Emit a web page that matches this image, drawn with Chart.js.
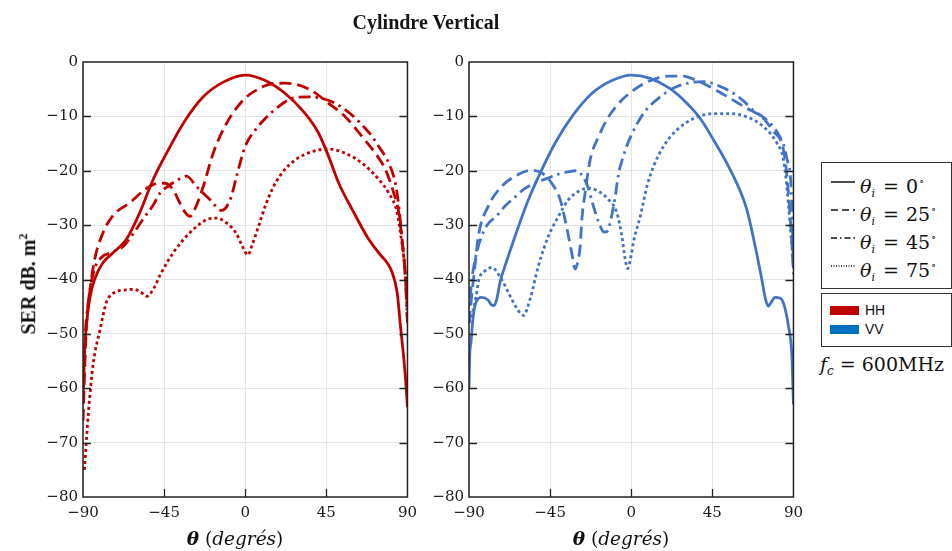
<!DOCTYPE html>
<html>
<head>
<meta charset="utf-8">
<script src="https://cdn.jsdelivr.net/npm/chart.js@4.4.1/dist/chart.umd.min.js"></script>
<style>
  html,body{margin:0;padding:0;background:#fff;}
  body{width:952px;height:551px;position:relative;overflow:hidden;font-family:"DejaVu Serif",serif;color:#111;}
  canvas{position:absolute;top:0;}
  #c1{left:0;}
  #c2{left:386px;}
  .abs{position:absolute;white-space:nowrap;}
  #title{left:426px;top:22px;transform:translate(-50%,-50%);font-family:"Liberation Serif",serif;font-weight:bold;font-size:20px;color:#151515;}
  #ylab{left:28px;top:284px;transform:translate(-50%,-50%) rotate(-90deg);font-family:"Liberation Serif",serif;font-weight:bold;font-size:20px;}
  #ylab sup{font-size:12px;}
  .xlab{top:538px;transform:translate(-50%,-50%);font-family:"DejaVu Serif",serif;font-size:18.5px;}
  .xlab b{font-style:italic;}
  .box{position:absolute;border:1.5px solid #333;background:#fff;box-sizing:border-box;}
  #leg1{left:821px;top:162px;width:131px;height:127px;}
  #leg2{left:821px;top:293px;width:131px;height:54px;}
  .row{position:absolute;left:0;height:26px;width:130px;}
  .row svg{position:absolute;left:9px;top:11px;}
  .row .t{position:absolute;left:38px;top:0;font-family:"DejaVu Serif",serif;font-size:19px;line-height:26px;}
  .t i{font-style:italic;}
  .t .eq{margin:0 7px 0 8px;}
  .t sub{font-size:11px;font-style:italic;vertical-align:-4px;}
  .t sup{font-size:11px;vertical-align:8px;margin-left:1px;}
  .sw{position:absolute;left:8px;width:29px;height:9px;}
  .swt{position:absolute;left:43px;font-family:"Liberation Sans",sans-serif;font-size:14px;line-height:14px;}
  #fc{left:820px;top:353px;font-family:"DejaVu Serif",serif;font-size:19px;}
  #fc sub{font-size:12px;font-style:italic;vertical-align:-4px;}
</style>
</head>
<body>
<canvas id="c1" width="424" height="551"></canvas>
<canvas id="c2" width="424" height="551"></canvas>

<div id="title" class="abs">Cylindre Vertical</div>
<div id="ylab" class="abs">SER dB. m<sup>2</sup></div>
<div class="abs xlab" style="left:235px;"><b>θ</b> (<i>degrés</i>)</div>
<div class="abs xlab" style="left:621px;"><b>θ</b> (<i>degrés</i>)</div>

<div id="leg1" class="box">
  <div class="row" style="top:6px;"><svg width="26" height="4"><line x1="0" y1="2" x2="24" y2="2" stroke="#111" stroke-width="1.5"/></svg><span class="t"><i>θ</i><sub>i</sub><span class="eq">=</span>0<sup>∘</sup></span></div>
  <div class="row" style="top:34px;"><svg width="26" height="4"><line x1="0" y1="2" x2="24" y2="2" stroke="#111" stroke-width="1.5" stroke-dasharray="7,4"/></svg><span class="t"><i>θ</i><sub>i</sub><span class="eq">=</span>25<sup>∘</sup></span></div>
  <div class="row" style="top:62px;"><svg width="26" height="4"><line x1="0" y1="2" x2="24" y2="2" stroke="#111" stroke-width="1.5" stroke-dasharray="6,3,1.5,3"/></svg><span class="t"><i>θ</i><sub>i</sub><span class="eq">=</span>45<sup>∘</sup></span></div>
  <div class="row" style="top:90px;"><svg width="26" height="4"><line x1="0" y1="2" x2="24" y2="2" stroke="#111" stroke-width="1.5" stroke-dasharray="1,1.5"/></svg><span class="t"><i>θ</i><sub>i</sub><span class="eq">=</span>75<sup>∘</sup></span></div>
</div>
<div id="leg2" class="box">
  <div class="sw" style="top:12px;background:#C00000;"></div><div class="swt" style="top:9px;">HH</div>
  <div class="sw" style="top:31px;background:#0070C0;"></div><div class="swt" style="top:28px;">VV</div>
</div>
<div id="fc" class="abs"><i>f</i><sub>c</sub> = 600MHz</div>

<script>
// ---------- tick labels ----------
const xTicks = [-90, -45, 0, 45, 90];
const yTicks = [0, -10, -20, -30, -40, -50, -60, -70, -80];

// ---------- HH (left panel) ----------
const hh0Theta  = [-90, -89.4, -88.1, -86.3, -83.5, -78.9, -73.3, -65.9, -58.5, -51.1, -43.7, -34.4, -23.3, -12.2, 0, 11.1, 22.2, 33.3, 40.7, 46.3, 51.9, 59.3, 68.5, 74.1, 81.5, 84.3, 86.1, 88, 89, 90];
const hh0Values = [-62, -54.6, -48.5, -43.6, -39.9, -36.9, -35.1, -32.6, -27.7, -21.6, -16.8, -11.3, -6.4, -3.7, -2.4, -3.4, -5.8, -9.5, -13.1, -17.4, -22.3, -27.1, -32.6, -35.1, -38.7, -42.4, -48.5, -54.6, -58.5, -63.5];

const hh25Theta  = [-90, -89, -88.1, -86.3, -83.5, -78.9, -73.3, -64.1, -55, -48, -44.6, -40, -36.3, -33, -30.7, -28, -23.3, -17.8, -10.4, -1.1, 5, 14.8, 22, 28, 37, 46.3, 55.6, 64.8, 72.2, 77.8, 82.4, 85.2, 87, 88.9, 90];
const hh25Values = [-66, -56, -48.5, -42.4, -36.3, -31.4, -28.2, -25.9, -23.3, -22.3, -22.3, -23.5, -25.9, -27.8, -28.4, -27.1, -22.9, -16.8, -11.3, -7.0, -5.4, -4.0, -3.9, -4.1, -5.3, -7.6, -10.1, -13.7, -16.8, -19.8, -24.1, -27.7, -32.6, -39.3, -45];

const hh45Theta  = [-90, -89, -87, -84, -80, -74, -68, -62, -56.5, -51, -47.3, -43, -38, -32.6, -27, -19.6, -13, -8, -4.8, 0, 5.6, 11.1, 18.5, 25.9, 35.2, 42.6, 50, 59.3, 66, 70.4, 74, 79.6, 83.3, 85.2, 87, 88.5, 90];
const hh45Values = [-63, -52, -44, -38.5, -36, -35, -34, -31.5, -28.8, -26.3, -24.1, -22.9, -21.8, -21, -22.9, -25.3, -27.3, -25, -21, -15.5, -12.5, -10.4, -8.2, -6.7, -6.4, -6.7, -7.6, -9.8, -12, -13.7, -15.5, -18.6, -22.3, -26.5, -32.6, -38, -48];

const hh75Theta  = [-89.2, -87, -84.3, -80.6, -77, -72, -66, -62.2, -58, -54.6, -50.5, -47.4, -40, -30.7, -21.5, -15.9, -10.4, -5, -2, 1.5, 3.7, 7.4, 11.1, 14.8, 20.4, 27.8, 37, 46.3, 55.6, 64.8, 74.1, 79.6, 84.3, 86.1, 88, 88.9, 90];
const hh75Values = [-75, -64.5, -55.4, -49.3, -44.2, -42.3, -41.9, -41.8, -42.3, -43.1, -41.5, -39.3, -35.1, -31.4, -29, -28.7, -29.6, -31.5, -33.6, -35.5, -33.8, -30.2, -26.5, -23.5, -20.4, -18, -16.5, -16, -16.8, -18.6, -21.6, -24.1, -27.7, -31.4, -36, -39.3, -47.5];

// ---------- VV (right panel) ----------
const vv0Theta  = [-90, -89.6, -88.9, -87.6, -85.7, -83, -79.3, -77.5, -76, -74.5, -72.8, -70, -64.4, -57, -49.6, -42.2, -33, -21.9, -10.7, 0, 10.5, 21.6, 30.9, 38.3, 45.6, 54.9, 64.1, 68.7, 72.4, 74.5, 76.1, 77.6, 79.8, 82.5, 84.5, 87.2, 89.1, 90];
const vv0Values = [-60, -54, -51.5, -46.6, -43.9, -43.3, -43.8, -44.7, -44.8, -43.5, -40.5, -37.5, -32, -25.3, -19.8, -14.9, -10.1, -5.8, -3.4, -2.4, -3, -4.9, -7.6, -10.4, -14.3, -19.8, -27.1, -33.8, -39.9, -43.6, -44.9, -44.2, -43.3, -43.4, -44.4, -48.5, -54, -63];

const vv25Theta  = [-90, -88.5, -86.7, -84.8, -79.3, -71.9, -64.4, -55.2, -49.6, -44.1, -39.4, -36.7, -33, -31.1, -29.5, -28.3, -27.4, -25.6, -22.8, -18.1, -12.6, -5.2, 0, 6.8, 14.2, 21, 28, 36.4, 45.6, 54.9, 64.1, 73.4, 78.9, 83.5, 85.4, 87.2, 89.1, 90];
const vv25Values = [-48, -43, -37.5, -32, -26.5, -22.9, -21, -19.9, -20.4, -22.3, -25.3, -29, -35.1, -38.1, -36.5, -33.8, -29, -24.1, -18, -13.7, -10.1, -7, -5.5, -4, -3, -2.6, -2.6, -3.4, -4.9, -6.7, -8.5, -10.4, -12.8, -14.9, -18, -24.1, -33.2, -39];

const vv45Theta  = [-90, -89, -87, -84, -80, -75, -70, -65, -60, -55, -50, -45, -40, -35, -30, -27, -24, -21, -18, -15, -13, -11, -9, -7, -5, -2.5, 0, 6.9, 16.1, 25.4, 33, 40.2, 49.4, 56, 62.4, 68, 73.5, 79.1, 82, 84.6, 86.5, 88.3, 89.3, 90];
const vv45Values = [-48, -42, -37, -33, -30, -28.4, -26.5, -25, -23.5, -22.5, -21.8, -21.2, -20.6, -20.2, -20, -21, -23, -26.5, -29.5, -31.3, -31, -28.5, -25, -20.5, -18, -15.5, -13.5, -9.4, -6.4, -4.5, -3.8, -3.6, -4.5, -5.6, -7.2, -9, -10.2, -12, -13.5, -15.3, -18, -21, -28, -38];

const vv75Theta  = [-90, -88, -86, -84.5, -81.1, -77.4, -71.9, -68.1, -64.4, -59.8, -56.1, -51.5, -45.9, -40.4, -34.8, -29.3, -23.7, -18.1, -12.6, -8, -5.2, -3.5, -2, 0, 1.3, 5, 8.7, 12.4, 17.9, 25.3, 34.6, 45.6, 54.9, 64.1, 73.4, 80.8, 84.5, 86.3, 88.2, 90];
const vv75Values = [-48, -46, -43, -40, -38.4, -37.8, -40, -42.4, -44.8, -46.6, -43.6, -37.5, -32, -28.4, -25.3, -23.8, -23.2, -23.8, -25.3, -27.7, -32, -36, -38, -35.5, -33, -28.4, -22.9, -19.2, -15.5, -12.5, -10.4, -9.5, -9.5, -10.1, -11.9, -14.9, -18, -22.9, -30.2, -37.5];

// ---------- styles ----------
const HH_COLOR = '#C00000';
const VV_COLOR = '#4472C4';
const DASHES = [[], [12, 6], [12, 5, 2.5, 5], [3, 3]];
const LABELS = ['θi = 0°', 'θi = 25°', 'θi = 45°', 'θi = 75°'];

function pts(t, v){ return t.map((x, i) => ({x: x, y: v[i]})); }

function makeSets(pairs, color){
  return pairs.map((p, i) => ({
    label: LABELS[i],
    data: pts(p[0], p[1]),
    borderColor: color,
    borderWidth: 2.8,
    borderDash: DASHES[i],
    borderCapStyle: 'butt',
    pointRadius: 0,
    fill: false,
    cubicInterpolationMode: 'monotone'
  }));
}

const framePlugin = {
  id: 'frame',
  afterDraw(chart){
    const {ctx, chartArea} = chart;
    const {left, right, top, bottom} = chartArea;
    const xs = chart.scales.x, ys = chart.scales.y;
    ctx.save();
    ctx.strokeStyle = '#222';
    ctx.lineWidth = 1.5;
    ctx.strokeRect(left, top, right - left, bottom - top);
    ctx.lineWidth = 1.3;
    ctx.beginPath();
    yTicks.forEach(v => {
      if (v === 0 || v === -80) return;
      const py = Math.round(ys.getPixelForValue(v)) + 0.5;
      ctx.moveTo(left, py); ctx.lineTo(left + 8, py);
      ctx.moveTo(right, py); ctx.lineTo(right - 8, py);
    });
    xTicks.forEach(v => {
      if (Math.abs(v) === 90) return;
      const px = Math.round(xs.getPixelForValue(v)) + 0.5;
      ctx.moveTo(px, bottom); ctx.lineTo(px, bottom - 8);
    });
    ctx.stroke();
    ctx.restore();
  }
};

function makeChart(id, sets){
  return new Chart(document.getElementById(id), {
    type: 'line',
    data: { datasets: sets },
    plugins: [framePlugin],
    options: {
      responsive: false,
      animation: false,
      layout: { padding: { left: 0, right: 13, top: 62, bottom: 24 } },
      plugins: { legend: { display: false }, tooltip: { enabled: false }, title: { display: false } },
      scales: {
        x: {
          type: 'linear', min: -90, max: 90,
          afterBuildTicks: s => { s.ticks = xTicks.map(v => ({value: v})); },
          afterFit: s => { s.height = 30; },
          grid: { color: '#e4e4e4', lineWidth: 1, drawTicks: false },
          border: { display: false },
          ticks: {
            padding: 7, color: '#1a1a1a', maxRotation: 0, autoSkip: false,
            font: { family: 'DejaVu Serif', size: 15 },
            callback: v => v < 0 ? '\u2212' + Math.abs(v) : String(v)
          }
        },
        y: {
          type: 'linear', min: -80, max: 0,
          afterBuildTicks: s => { s.ticks = yTicks.map(v => ({value: v})); },
          afterFit: s => { s.width = 83; },
          grid: { color: '#e4e4e4', lineWidth: 1, drawTicks: false },
          border: { display: false },
          ticks: {
            padding: 5, color: '#1a1a1a', autoSkip: false,
            font: { family: 'DejaVu Serif', size: 15 },
            callback: v => v < 0 ? '\u2212' + Math.abs(v) : String(v)
          }
        }
      }
    }
  });
}

makeChart('c1', makeSets([[hh0Theta, hh0Values], [hh25Theta, hh25Values], [hh45Theta, hh45Values], [hh75Theta, hh75Values]], HH_COLOR));
makeChart('c2', makeSets([[vv0Theta, vv0Values], [vv25Theta, vv25Values], [vv45Theta, vv45Values], [vv75Theta, vv75Values]], VV_COLOR));
</script>
</body>
</html>
